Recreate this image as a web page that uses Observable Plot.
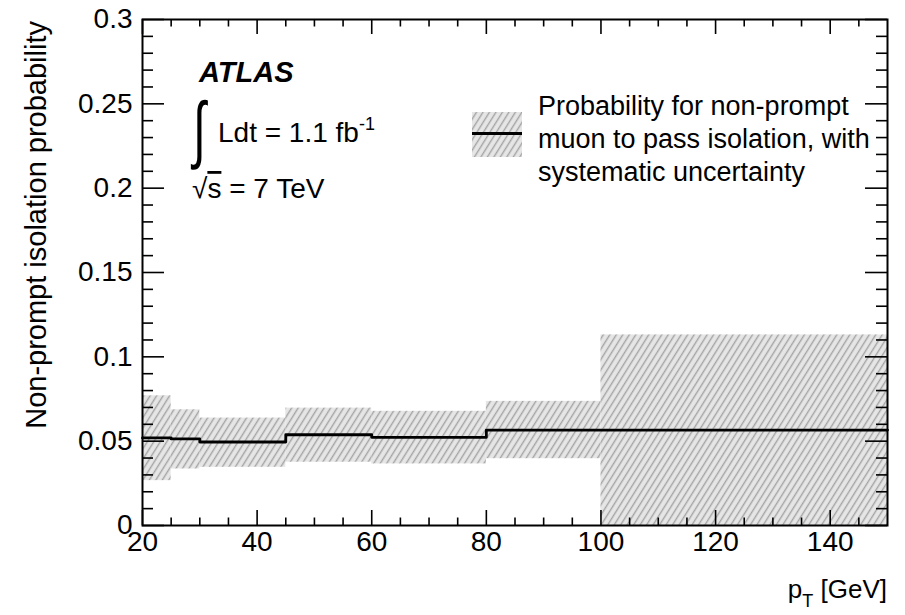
<!DOCTYPE html>
<html>
<head>
<meta charset="utf-8">
<script src="https://cdn.jsdelivr.net/npm/d3@7"></script>
<script src="https://cdn.jsdelivr.net/npm/@observablehq/plot@0.6"></script>
<style>
  html, body { margin: 0; padding: 0; background: #fff; }
  #chart { width: 905px; height: 615px; }
  text { font-family: "Liberation Sans", Arial, Helvetica, sans-serif; }
</style>
</head>
<body>
<div id="chart"></div>
<script>
// ---- Data ----
const binLow   = [20, 25, 30, 45, 60, 80, 100];
const binHigh  = [25, 30, 45, 60, 80, 100, 150];
const central  = [0.0519, 0.0513, 0.0495, 0.0538, 0.0523, 0.0566, 0.0566];
const bandLow  = [0.0266, 0.0335, 0.0345, 0.0375, 0.0365, 0.0396, 0.0];
const bandHigh = [0.0769, 0.0686, 0.0637, 0.0696, 0.0677, 0.0736, 0.1130];

// ---- Ticks ----
const xTicksMajor = [20, 40, 60, 80, 100, 120, 140];
const xTickLabels = ["20", "40", "60", "80", "100", "120", "140"];
const xTicksMinor = [25, 30, 35, 45, 50, 55, 65, 70, 75, 85, 90, 95, 105, 110, 115, 125, 130, 135, 145];
const yTicksMajor = [0, 0.05, 0.1, 0.15, 0.2, 0.25, 0.3];
const yTickLabels = ["0", "0.05", "0.1", "0.15", "0.2", "0.25", "0.3"];
const yTicksMinor = [0.01, 0.02, 0.03, 0.04, 0.06, 0.07, 0.08, 0.09, 0.11, 0.12, 0.13, 0.14,
                     0.16, 0.17, 0.18, 0.19, 0.21, 0.22, 0.23, 0.24, 0.26, 0.27, 0.28, 0.29];

const W = 905, H = 615;
const mL = 142, mR = 18, mT = 19, mB = 90;
const innerW = W - mL - mR, innerH = H - mT - mB;

const bins = binLow.map((lo, i) => ({lo, hi: binHigh[i], c: central[i], dn: bandLow[i], up: bandHigh[i]}));
const stepPts = binLow.map((x, i) => ({x, y: central[i]}))
  .concat([{x: binHigh[binHigh.length - 1], y: central[central.length - 1]}]);

const tickStyle = {stroke: "black", strokeWidth: 1.6};

const plot = Plot.plot({
  width: W, height: H,
  marginLeft: mL, marginRight: mR, marginTop: mT, marginBottom: mB,
  x: {domain: [20, 150]},
  y: {domain: [0, 0.3]},
  style: {background: "white", fontFamily: "Liberation Sans, Arial, sans-serif", color: "black"},
  marks: [
    Plot.rect(bins, {x1: "lo", x2: "hi", y1: "dn", y2: "up", fill: "url(#hatch)"}),
    Plot.line(stepPts, {x: "x", y: "y", curve: "step-after", stroke: "black", strokeWidth: 2.8}),
    // left ticks (inward)
    Plot.tickY(yTicksMajor, {y: d => d, insetRight: innerW - 22, ...tickStyle}),
    Plot.tickY(yTicksMinor, {y: d => d, insetRight: innerW - 11, ...tickStyle}),
    // right ticks (inward)
    Plot.tickY(yTicksMajor, {y: d => d, insetLeft: innerW - 22, ...tickStyle}),
    Plot.tickY(yTicksMinor, {y: d => d, insetLeft: innerW - 11, ...tickStyle}),
    // bottom ticks (inward)
    Plot.tickX(xTicksMajor, {x: d => d, insetTop: innerH - 15, ...tickStyle}),
    Plot.tickX(xTicksMinor, {x: d => d, insetTop: innerH - 7.5, ...tickStyle}),
    // top ticks (inward)
    Plot.tickX(xTicksMajor, {x: d => d, insetBottom: innerH - 15, ...tickStyle}),
    Plot.tickX(xTicksMinor, {x: d => d, insetBottom: innerH - 7.5, ...tickStyle}),
    Plot.frame({stroke: "black", strokeWidth: 2}),
    Plot.axisX(xTicksMajor, {anchor: "bottom", tickSize: 0, tickPadding: 6, fontSize: 28, label: null,
      tickFormat: d => xTickLabels[xTicksMajor.indexOf(d)]}),
    Plot.axisY(yTicksMajor, {anchor: "left", tickSize: 0, tickPadding: 10, fontSize: 28, label: null,
      tickFormat: d => yTickLabels[yTicksMajor.indexOf(d)]})
  ]
});

const svg = d3.select(plot);

svg.insert("defs", ":first-child").html(`
  <pattern id="hatch" patternUnits="userSpaceOnUse" width="5.5" height="6" patternTransform="rotate(32)">
    <rect x="0" y="0" width="5.5" height="6" fill="#e6e6e6"></rect>
    <line x1="1.5" y1="-1" x2="1.5" y2="7" stroke="#a4a4a4" stroke-width="1.4"></line>
  </pattern>`);

const ann = svg.append("g").attr("fill", "black").attr("text-anchor", "start");

// Y axis title
ann.append("text")
  .attr("transform", "translate(46,21) rotate(-90)")
  .attr("text-anchor", "end")
  .attr("font-size", 29)
  .text("Non-prompt isolation probability");

// X axis title
const xt = ann.append("text")
  .attr("x", 887).attr("y", 598)
  .attr("text-anchor", "end")
  .attr("font-size", 26);
xt.append("tspan").text("p");
xt.append("tspan").attr("font-size", 18).attr("dy", 9).text("T");
xt.append("tspan").attr("dy", -9).text(" [GeV]");

// ATLAS label
ann.append("text")
  .attr("x", 199).attr("y", 82)
  .attr("font-size", 29).attr("font-weight", "bold").attr("font-style", "italic")
  .text("ATLAS");

// Integral sign
ann.append("text")
  .attr("transform", "translate(193,154) scale(1.0,1.6)")
  .attr("font-family", "Liberation Serif")
  .attr("font-size", 46)
  .text("∫");

const lt = ann.append("text")
  .attr("x", 218).attr("y", 142)
  .attr("font-size", 28);
lt.append("tspan").text("Ldt = 1.1 fb");
lt.append("tspan").attr("font-size", 18).attr("dy", -12).text("-1");

// sqrt(s)
const st = ann.append("text")
  .attr("x", 192).attr("y", 198)
  .attr("font-size", 28);
st.append("tspan").text("√");
st.append("tspan").attr("text-decoration", "overline").text("s");
st.append("tspan").text(" = 7 TeV");

// Legend
const lg = svg.append("g").attr("text-anchor", "start");
lg.append("rect").attr("x", 472).attr("y", 112).attr("width", 50).attr("height", 45).attr("fill", "url(#hatch)");
lg.append("line").attr("x1", 472).attr("x2", 522).attr("y1", 133.5).attr("y2", 133.5)
  .attr("stroke", "black").attr("stroke-width", 2.8);
const legendLines = ["Probability for non-prompt", "muon to pass isolation, with", "systematic uncertainty"];
legendLines.forEach((t, i) => {
  lg.append("text").attr("x", 538).attr("y", 115 + i * 33).attr("font-size", 27).attr("fill", "black").text(t);
});

document.getElementById("chart").appendChild(plot);
</script>
</body>
</html>
